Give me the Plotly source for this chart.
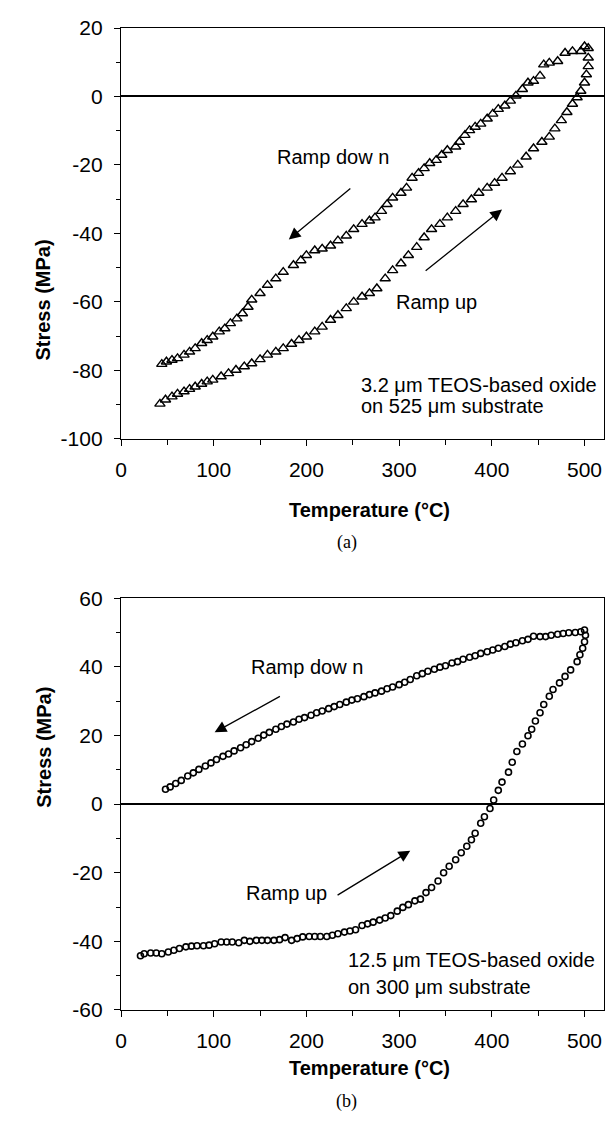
"""Thermal cycling stress curves for two TEOS-based oxide films."""

import plotly.graph_objects as go

# ── Data ─────────────────────────────────────────────────────────────────

# (a) 3.2 um film, triangles: heating branch
a_up_T = [42, 48, 55, 61, 68, 74, 80, 87, 93, 99, 108, 116, 124, 133, 141,
          150, 158, 167, 175, 184, 192, 200, 209, 217, 226, 234, 243, 251,
          260, 268, 276, 285, 293, 302, 310, 319, 327, 335, 344, 352, 361,
          369, 378, 386, 395, 403, 411, 420, 428, 437, 445, 454, 462, 468,
          475, 481, 487, 492, 496, 500, 502, 504, 504]
a_up_S = [-89.8, -88.6, -87.7, -86.9, -86.2, -85.5, -84.8, -84, -83.3, -82.8,
          -81.8, -80.9, -79.9, -78.9, -78, -76.8, -75.5, -74.6, -73.6, -72.3,
          -71.2, -70.2, -68.7, -67.3, -65.3, -63.9, -61.9, -60, -58.5, -57.5,
          -56.1, -53.2, -50.8, -48.8, -46.4, -44, -41.2, -38.8, -37.3, -35.4,
          -33.5, -31.5, -30.1, -28.2, -26.7, -25.3, -23.8, -21.9, -20, -17.6,
          -15.2, -13.3, -11.8, -9.4, -7, -4.6, -2.2, -0.3, 1.6, 4, 6.4, 8.8,
          11.3]
# cooling branch
a_down_T = [504, 500, 496, 487, 479, 471, 462, 456, 452, 445, 439, 433, 426,
            420, 414, 407, 401, 395, 388, 382, 376, 371, 365, 361, 352, 346,
            340, 333, 327, 321, 314, 308, 302, 293, 287, 281, 274, 268, 260,
            251, 243, 234, 226, 217, 209, 200, 194, 186, 175, 167, 158, 150,
            141, 137, 131, 125, 118, 112, 106, 99, 93, 87, 80, 74, 68, 61, 55,
            49, 44]
a_down_S = [14.1, 14.6, 13.2, 13.2, 12.7, 10.3, 9.8, 9.3, 6, 4.5, 4, 2.1, 0.2,
            -1.3, -2.7, -3.7, -5.1, -6.5, -8, -8.9, -9.9, -11.3, -13.3, -14.7,
            -15.7, -17.1, -18.6, -19.5, -21, -22.4, -23.8, -26.7, -28.2,
            -29.6, -31.5, -33.5, -35.4, -36.3, -37.3, -38.8, -40.7, -42.1,
            -43.6, -44.5, -45, -46.4, -47.9, -49.3, -51.3, -53.2, -55.1,
            -57.5, -59.4, -61.5, -63.4, -64.9, -66.3, -67.8, -68.7, -70.2,
            -71.2, -72.1, -73.6, -74.6, -75.5, -76.5, -77, -77.5, -78.2]

# (b) 12.5 um film, circles: heating branch
b_up_T = [21, 25, 32, 38, 44, 51, 57, 63, 70, 76, 82, 89, 95, 101, 108, 114,
          120, 127, 133, 139, 146, 152, 158, 165, 171, 177, 184, 190, 196,
          203, 209, 215, 222, 228, 234, 241, 247, 253, 260, 266, 272, 279,
          285, 291, 298, 304, 310, 317, 323, 329, 335, 342, 348, 354, 361,
          367, 373, 378, 382, 388, 392, 398, 402, 407, 411, 418, 422, 427,
          433, 439, 443, 447, 452, 456, 462, 466, 473, 479, 485, 492, 495,
          498, 500, 501]
b_up_S = [-44.2, -43.6, -43.4, -43.4, -43.6, -43.1, -42.6, -42.1, -41.6,
          -41.4, -41.3, -41.3, -41.1, -40.7, -40.2, -40.2, -40.2, -40.4,
          -39.7, -40, -39.7, -39.7, -39.7, -39.7, -39.5, -38.9, -39.7, -39.2,
          -38.7, -38.6, -38.6, -38.6, -38.6, -38.2, -37.8, -37.3, -37, -36.6,
          -35.4, -34.9, -34.4, -33.8, -33.2, -32.5, -31.2, -30.1, -29.3,
          -28.2, -27.7, -25.8, -24.3, -22.4, -20, -18.1, -16.2, -14.2, -12.3,
          -10.4, -8.5, -5.6, -3.7, -1.3, 1.2, 4, 6.4, 9.3, 12.2, 15.3, 17.5,
          19.9, 21.8, 24.2, 26.6, 29, 31.4, 33.4, 35.3, 37.2, 39.1, 41.5,
          43.5, 45.4, 47.3, 49.2]
# cooling branch
b_down_T = [500, 496, 490, 483, 477, 471, 464, 458, 452, 445, 439, 433, 426,
            420, 414, 407, 401, 395, 388, 382, 376, 369, 363, 357, 350, 344,
            338, 331, 325, 319, 312, 306, 300, 293, 287, 281, 274, 268, 262,
            255, 249, 243, 236, 230, 224, 217, 211, 205, 198, 192, 186, 179,
            173, 167, 160, 154, 148, 141, 135, 129, 122, 116, 110, 103, 97,
            91, 84, 78, 72, 65, 59, 53, 48]
b_down_S = [50.7, 50.2, 50, 49.9, 49.7, 49.5, 49.2, 48.8, 48.8, 48.9, 48,
            47.6, 47, 46.6, 45.9, 45.4, 44.9, 44.4, 43.9, 43.2, 42.8, 42.2,
            41.5, 41.1, 40.3, 39.9, 39.3, 38.7, 38, 37.4, 36.3, 35.5, 34.8,
            34.1, 33.6, 32.9, 32.4, 31.9, 31.3, 30.7, 30.3, 29.7, 29, 28.4,
            27.8, 27.1, 26.6, 25.9, 25.2, 24.7, 23.9, 23.3, 22.6, 21.8, 20.9,
            20.1, 19.2, 18.2, 17.3, 16.4, 15.5, 14.6, 13.9, 13, 12, 11.1, 10.1,
            9.1, 8.2, 6.9, 6, 5, 4.3]

X_RANGE = [0, 521]
X_TICKS = [0, 100, 200, 300, 400, 500]
A_RANGE = [-100, 20]
A_TICKS = [-100, -80, -60, -40, -20, 0, 20]
B_RANGE = [-60, 60]
B_TICKS = [-60, -40, -20, 0, 20, 40, 60]

FONT = "Liberation Sans, Arial, sans-serif"
BLACK = "#000000"

fig = go.Figure()

fig.add_trace(go.Scatter(
    x=a_up_T + a_down_T, y=a_up_S + a_down_S,
    mode="markers", xaxis="x", yaxis="y",
    marker=dict(symbol="triangle-up-open", size=9, color=BLACK,
                angle=0, angleref="up",
                line=dict(width=1.4, color=BLACK)),
    showlegend=False,
))
fig.add_trace(go.Scatter(
    x=b_up_T + b_down_T, y=b_up_S + b_down_S,
    mode="markers", xaxis="x2", yaxis="y2",
    marker=dict(symbol="circle-open", size=6, color=BLACK,
                line=dict(width=1.6, color=BLACK)),
    showlegend=False,
))

axis_common = dict(
    showgrid=False, showline=True, linecolor=BLACK, linewidth=1.4,
    mirror=True, ticks="outside", ticklen=6, tickwidth=1.2,
    tickcolor=BLACK, tickfont=dict(family=FONT, size=21, color=BLACK),
)

x_common = dict(axis_common, range=X_RANGE, tickvals=X_TICKS,
                zeroline=False, ticklabelstandoff=6,
                minor=dict(ticks="outside", ticklen=5, dtick=50,
                           tickcolor=BLACK))


def y_axis(rng, ticks, domain, anchor):
    # hyphen-minus labels, like the original figure
    return dict(axis_common, range=rng, tickvals=ticks,
                ticktext=[str(t) for t in ticks],
                zeroline=True, zerolinecolor=BLACK, zerolinewidth=1.7,
                ticklabelstandoff=7, domain=domain, anchor=anchor,
                minor=dict(ticks="outside", ticklen=4, dtick=10,
                           tickcolor=BLACK))


# the page body keeps its 8 px margin, so the figure is 8 px smaller
fig.update_layout(
    width=605, height=1119,
    margin=dict(l=113, r=8, t=10, b=117),
    paper_bgcolor="white", plot_bgcolor="white",
    xaxis=dict(x_common, anchor="y", domain=[0, 1]),
    yaxis=y_axis(A_RANGE, A_TICKS, [0.5817, 1], "x"),
    xaxis2=dict(x_common, anchor="y2", domain=[0, 1]),
    yaxis2=y_axis(B_RANGE, B_TICKS, [0, 0.4194], "x2"),
)

txt = dict(family=FONT, size=20, color=BLACK)


def label(text, x, y, xr, yr, **kw):
    fig.add_annotation(text=text, x=x, y=y, xref=xr, yref=yr,
                       showarrow=False, font=txt, **kw)


def arrow(x0, y0, x1, y1, xr, yr):
    fig.add_annotation(x=x1, y=y1, ax=x0, ay=y0, xref=xr, yref=yr,
                       axref=xr, ayref=yr, text="", showarrow=True,
                       arrowhead=2, arrowsize=1.8, arrowwidth=1.3,
                       arrowcolor=BLACK)


# (a) annotations
label("Ramp dow n", 229, -17.6, "x", "y")
arrow(249, -26.5, 181, -41.8, "x", "y")
label("Ramp up", 340, -60, "x", "y")
arrow(327, -51.3, 411, -33, "x", "y")
label("3.2 μm TEOS-based oxide", 257, -84.4, "x", "y", xanchor="left")
label("on 525 μm substrate", 257, -90.4, "x", "y", xanchor="left")

# (b) annotations
label("Ramp dow n", 201, 39.8, "x2", "y2")
arrow(173, 31.6, 101, 20.9, "x2", "y2")
label("Ramp up", 178, -26, "x2", "y2")
arrow(232, -26.8, 312, -13.6, "x2", "y2")
label("12.5 μm TEOS-based oxide", 243, -45.3, "x2", "y2", xanchor="left")
label("on 300 μm substrate", 243, -53.4, "x2", "y2", xanchor="left")

# Axis titles and panel captions
title_font = dict(family=FONT, size=20, color=BLACK, weight="bold")
for yc in (0.7863, 0.2036):
    fig.add_annotation(text="Stress (MPa)", x=-0.188, y=yc, xref="paper",
                       yref="paper", textangle=-90, showarrow=False,
                       font=title_font)
for yc in (0.509, -0.0726):
    fig.add_annotation(text="Temperature (°C)", x=0.515, y=yc, xref="paper",
                       yref="paper", showarrow=False, font=title_font)
for cap, yc in (("(a)", 0.476), ("(b)", -0.106)):
    fig.add_annotation(text=cap, x=0.467, y=yc, xref="paper", yref="paper",
                       showarrow=False,
                       font=dict(family="Liberation Serif, Times New Roman",
                                 size=18, color=BLACK))

fig.write_html("out.html")
